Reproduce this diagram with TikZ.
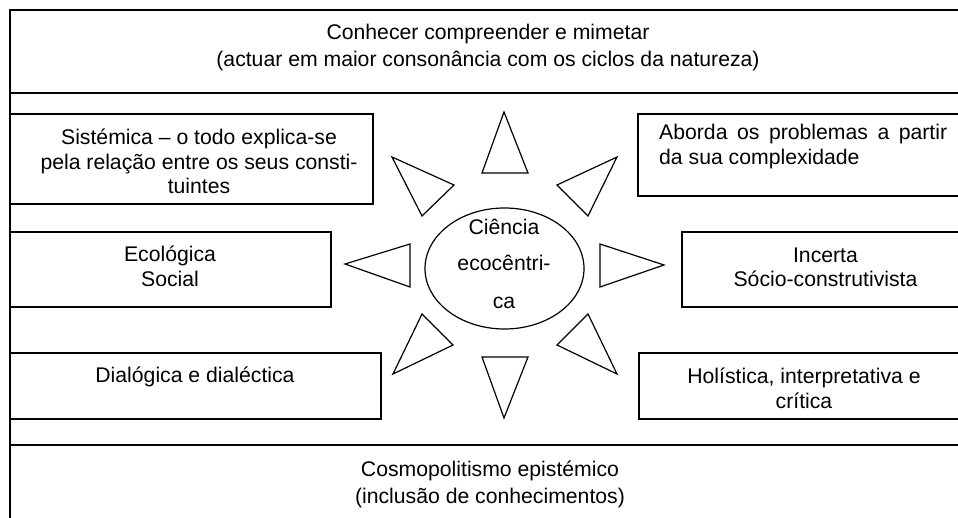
\documentclass[tikz,border=0pt]{standalone}
\usepackage{fontspec}
\setmainfont{Liberation Sans}
\begin{document}
\begin{tikzpicture}[x=1pt,y=-1pt,
  frameline/.style={draw=black, line width=1.4pt},
  boxline/.style={draw=black, line width=1.4pt},
  ray/.style={draw=black, line width=1.2pt, line join=miter},
  txt/.style={anchor=base, inner sep=0pt, font=\fontsize{21.2}{25}\selectfont},
  ltxt/.style={anchor=base west, inner sep=0pt, font=\fontsize{21.2}{25}\selectfont}]
\useasboundingbox (0,0) rectangle (958,518);
\clip (0,0) rectangle (958,518);
% outer frame and bands
\draw[frameline] (10,10) rectangle (968,530);
\draw[frameline] (10,93) -- (968,93);
\draw[frameline] (10,445) -- (968,445);
% side boxes
\draw[boxline] (10,114) rectangle (373,204);
\draw[boxline] (10,232) rectangle (331,307);
\draw[boxline] (10,353) rectangle (381,419);
\draw[boxline] (638,114) rectangle (968,196);
\draw[boxline] (682,232) rectangle (968,307);
\draw[boxline] (639,353) rectangle (968,419);
% sun
\draw[ray] (504.5,268.5) ellipse [x radius=79.5, y radius=60.5];
\draw[ray] (504,112) -- (482,173) -- (528,173) -- cycle;
\draw[ray] (504,418) -- (482,357) -- (528,357) -- cycle;
\draw[ray] (345,264) -- (410,244) -- (410,287) -- cycle;
\draw[ray] (664,265) -- (600,244) -- (600,287) -- cycle;
\draw[ray] (392,157) -- (454,185) -- (422,216) -- cycle;
\draw[ray] (617,157) -- (557,185) -- (588,216) -- cycle;
\draw[ray] (393,374) -- (453,345) -- (422,314) -- cycle;
\draw[ray] (617,374) -- (557,345) -- (588,314) -- cycle;
% texts
\node[txt] (top1) at (488,40) {Conhecer compreender e mimetar};
\node[txt] (top2) at (488,67) {(actuar em maior consonância com os ciclos da natureza)};
\node[txt] (bot1) at (490,476) {Cosmopolitismo epistémico};
\node[txt] (bot2) at (490,503) {(inclusão de conhecimentos)};
\node[txt] (sis1) at (199,145) {Sistémica – o todo explica-se};
\node[txt] (sis2) at (199,170) {pela relação entre os seus consti-};
\node[txt] (sis3) at (199,194) {tuintes};
\node[txt] (eco1) at (170,262) {Ecológica};
\node[txt] (eco2) at (170,287) {Social};
\node[txt] (dia1) at (195,382) {Dialógica e dialéctica};
\node[ltxt] (abo1) at (659,140) {\makebox[288pt][s]{Aborda os problemas a partir}};
\node[ltxt] (abo2) at (659,165) {da sua complexidade};
\node[txt] (inc1) at (825.5,263) {Incerta};
\node[txt] (inc2) at (825.5,287) {Sócio-construtivista};
\node[txt] (hol1) at (804,383) {Holística, interpretativa e};
\node[txt] (hol2) at (804,408) {crítica};
\node[txt] (cie1) at (504,235) {Ciência};
\node[txt] (cie2) at (504,271) {ecocêntri-};
\node[txt] (cie3) at (504,309) {ca};
\end{tikzpicture}
\end{document}
